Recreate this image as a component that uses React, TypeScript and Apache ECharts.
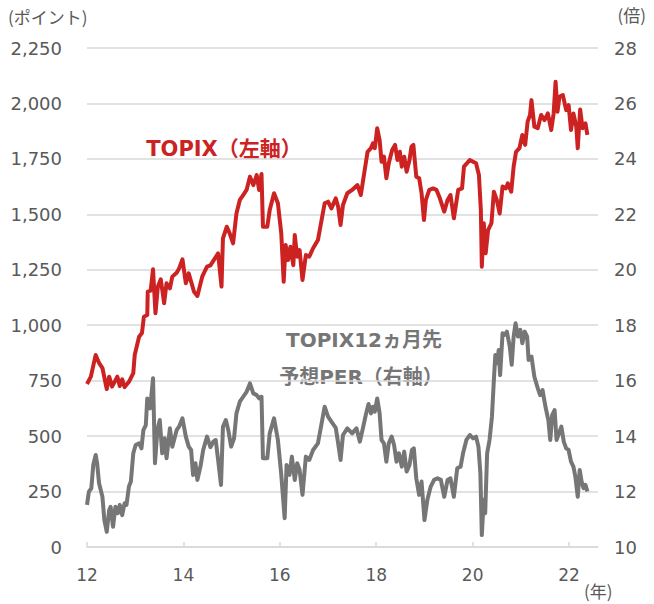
import React, { useEffect, useRef } from "react";
import * as echarts from "echarts";

// TOPIX (left axis, points)
const topixYears = [
  2012.0, 2012.08, 2012.18, 2012.25, 2012.32, 2012.41, 2012.46, 2012.52, 2012.63, 2012.68, 2012.73, 2012.78, 2012.87, 2012.96, 2012.99,
  2013.08, 2013.14, 2013.18, 2013.25, 2013.26, 2013.32, 2013.37, 2013.42, 2013.47, 2013.53, 2013.6, 2013.65, 2013.72, 2013.77, 2013.86, 2013.91, 2013.98,
  2014.05, 2014.11, 2014.22, 2014.29, 2014.39, 2014.49, 2014.56, 2014.62, 2014.72, 2014.79, 2014.82, 2014.9, 2014.96,
  2015.03, 2015.1, 2015.17, 2015.24, 2015.31, 2015.38, 2015.45, 2015.52, 2015.57, 2015.62, 2015.65, 2015.74, 2015.79, 2015.88, 2015.96,
  2016.03, 2016.08, 2016.12, 2016.17, 2016.22, 2016.28, 2016.31, 2016.36, 2016.41, 2016.47, 2016.54, 2016.61, 2016.69, 2016.79, 2016.86, 2016.93,
  2017.0, 2017.07, 2017.16, 2017.21, 2017.26, 2017.31, 2017.4, 2017.5, 2017.61, 2017.68, 2017.75, 2017.82, 2017.89, 2017.93, 2017.97,
  2018.02, 2018.07, 2018.11, 2018.16, 2018.21, 2018.26, 2018.33, 2018.39, 2018.44, 2018.49, 2018.53, 2018.58, 2018.63, 2018.69, 2018.73, 2018.77, 2018.83, 2018.89, 2018.94, 2018.99,
  2019.03, 2019.1, 2019.18, 2019.25, 2019.32, 2019.41, 2019.48, 2019.54, 2019.61, 2019.7, 2019.78, 2019.82, 2019.94,
  2020.07, 2020.13, 2020.17, 2020.19, 2020.23, 2020.27, 2020.32, 2020.39, 2020.44, 2020.5, 2020.56, 2020.62, 2020.69, 2020.73, 2020.8, 2020.85, 2020.9, 2020.97,
  2021.03, 2021.09, 2021.14, 2021.19, 2021.22, 2021.28, 2021.35, 2021.42, 2021.49, 2021.56, 2021.63, 2021.68, 2021.72, 2021.76, 2021.8, 2021.87, 2021.94, 2021.99,
  2022.04, 2022.09, 2022.15, 2022.18, 2022.23, 2022.28, 2022.34, 2022.38,
];
const topixValues = [
  735, 768, 866, 830, 807, 712, 768, 723, 768, 726, 756, 721, 745, 784, 866,
  948, 965, 1038, 1046, 1151, 1156, 1252, 1054, 1174, 1207, 1099, 1189, 1166, 1219, 1237, 1256, 1297,
  1189, 1234, 1151, 1132, 1219, 1264, 1270, 1290, 1324, 1174, 1392, 1444, 1414,
  1369, 1504, 1565, 1587, 1610, 1670, 1632, 1677, 1610, 1682, 1444, 1444, 1519, 1595, 1550,
  1414, 1196, 1362, 1294, 1354, 1271, 1407, 1309, 1339, 1204, 1317, 1309, 1347, 1384, 1467, 1550,
  1557, 1527, 1572, 1534, 1452, 1542, 1595, 1610, 1632, 1587, 1685, 1782, 1798, 1820, 1798,
  1888, 1835, 1737, 1760, 1663, 1730, 1790, 1813, 1745, 1782, 1715, 1760, 1692, 1745, 1805, 1813, 1670, 1663, 1595, 1474,
  1565, 1610, 1617, 1610, 1572, 1512, 1565, 1587, 1482, 1610, 1617, 1715, 1745,
  1730, 1677, 1519, 1264, 1460, 1324, 1429, 1460, 1602, 1565, 1504, 1625, 1617, 1640, 1602, 1715, 1782, 1798,
  1858, 1813, 1918, 1948, 2015, 1895, 1888, 1948, 1925, 1955, 1880, 1955, 2098, 1963, 2030, 2038, 1970, 1993,
  1880, 1955, 1895, 1798, 1973, 1888, 1910, 1858,
];

// TOPIX 12-month forward PER (right axis, times)
const perYears = [
  2012.0, 2012.04, 2012.09, 2012.13, 2012.18, 2012.21, 2012.25, 2012.32, 2012.36, 2012.41, 2012.46, 2012.49, 2012.54, 2012.59, 2012.64, 2012.68, 2012.73, 2012.78, 2012.82, 2012.87, 2012.91, 2012.96,
  2013.01, 2013.08, 2013.13, 2013.17, 2013.22, 2013.25, 2013.31, 2013.37, 2013.41, 2013.46, 2013.51, 2013.56, 2013.61, 2013.65, 2013.72, 2013.77, 2013.86, 2013.91, 2013.98,
  2014.05, 2014.11, 2014.16, 2014.2, 2014.25, 2014.29, 2014.36, 2014.41, 2014.49, 2014.56, 2014.62, 2014.67, 2014.72, 2014.78, 2014.82, 2014.88, 2014.93, 2014.99,
  2015.05, 2015.1, 2015.17, 2015.24, 2015.31, 2015.38, 2015.45, 2015.52, 2015.57, 2015.62, 2015.65, 2015.74, 2015.79, 2015.88, 2015.96,
  2016.03, 2016.1, 2016.14, 2016.2, 2016.25, 2016.31, 2016.36, 2016.41, 2016.47, 2016.54, 2016.61, 2016.69, 2016.79, 2016.86, 2016.93,
  2017.0, 2017.07, 2017.16, 2017.21, 2017.26, 2017.31, 2017.4, 2017.5, 2017.59, 2017.66, 2017.73, 2017.79, 2017.84, 2017.89, 2017.93, 2017.97,
  2018.02, 2018.07, 2018.11, 2018.16, 2018.21, 2018.26, 2018.32, 2018.37, 2018.42, 2018.47, 2018.53, 2018.58, 2018.63, 2018.69, 2018.74, 2018.78, 2018.83, 2018.89, 2018.94, 2018.99,
  2019.0, 2019.06, 2019.13, 2019.2, 2019.27, 2019.34, 2019.41, 2019.48, 2019.54, 2019.61, 2019.68, 2019.75, 2019.8, 2019.87, 2019.94,
  2020.01, 2020.07, 2020.12, 2020.16, 2020.19, 2020.23, 2020.26, 2020.3, 2020.35, 2020.4, 2020.44, 2020.47, 2020.51, 2020.54, 2020.57, 2020.62, 2020.66, 2020.71, 2020.77, 2020.81, 2020.85, 2020.89, 2020.94, 2020.99,
  2021.03, 2021.08, 2021.13, 2021.16, 2021.22, 2021.28, 2021.35, 2021.4, 2021.45, 2021.51, 2021.57, 2021.61, 2021.65, 2021.7, 2021.74, 2021.79, 2021.84, 2021.89, 2021.94, 2021.99,
  2022.04, 2022.09, 2022.13, 2022.18, 2022.22, 2022.26, 2022.3, 2022.34, 2022.38,
];
const perValues = [
  11.52, 12.0, 12.12, 12.96, 13.32, 13.02, 12.3, 11.81, 10.97, 10.55, 11.33, 11.45, 10.73, 11.45, 11.22, 11.52, 11.15, 11.58, 11.52, 12.18, 12.36, 13.38,
  13.68, 13.74, 13.56, 14.22, 14.4, 15.36, 15.0, 16.09, 13.02, 14.22, 14.58, 13.38, 13.92, 13.2, 14.28, 13.62, 14.22, 14.34, 14.64,
  13.98, 13.62, 13.5, 12.6, 13.02, 12.42, 12.96, 13.5, 13.98, 13.6, 13.8, 13.86, 13.14, 12.24, 14.34, 14.58, 14.22, 13.62,
  13.92, 14.82, 15.24, 15.42, 15.6, 15.9, 15.54, 15.48, 15.36, 15.42, 13.2, 13.2, 14.1, 14.64, 13.86,
  12.6, 11.04, 12.96, 12.6, 13.26, 12.42, 13.02, 12.78, 11.88, 13.26, 13.14, 13.5, 13.74, 14.4, 15.06,
  14.7, 14.52, 14.3, 13.74, 13.14, 14.04, 14.28, 14.1, 14.28, 13.8, 14.34, 14.82, 15.16, 14.82, 15.06, 14.88,
  15.36, 14.82, 13.86, 13.74, 13.08, 13.74, 13.98, 13.68, 13.08, 13.38, 12.9, 13.44, 12.72, 12.96, 13.5, 13.56, 12.48, 11.88, 12.36, 11.22,
  10.97, 11.7, 12.18, 12.42, 12.48, 12.42, 11.81, 12.42, 12.48, 11.81, 12.84, 12.9, 13.38, 13.86, 14.04,
  13.92, 13.98, 13.62, 12.66, 10.43, 11.7, 11.22, 13.38, 13.86, 14.7, 16.02, 16.93, 16.63, 17.11, 16.2, 17.71, 17.65, 17.77, 17.23, 16.57, 17.59, 18.07, 17.59, 17.83,
  17.35, 17.77, 17.59, 16.75, 16.87, 16.14, 15.73, 15.48, 15.66, 15.06, 14.58, 13.86, 14.76, 14.94, 13.86, 14.1, 14.34, 13.8, 13.56, 13.5,
  13.08, 12.9, 12.54, 11.81, 12.78, 12.36, 12.12, 12.24, 12.0,
];

const xTickValues = [2012, 2014, 2016, 2018, 2020, 2022];

const LATIN = "'DejaVu Sans', 'Noto Sans CJK JP', sans-serif";
const CJK = "'Noto Sans CJK JP', 'DejaVu Sans', sans-serif";

export default function App() {
  const ref = useRef<HTMLDivElement>(null);

  useEffect(() => {
    if (!ref.current) return;
    const chart = echarts.init(ref.current, undefined, { renderer: "svg" });
    const topixData = topixYears.map((x, i) => [x, topixValues[i]]);
    const perData = perYears.map((x, i) => [x, perValues[i]]);
    const labelColor = "#595959";
    chart.setOption({
      animation: false,
      backgroundColor: "#ffffff",
      grid: { left: 87, right: 56, top: 48, bottom: 57, containLabel: false },
      xAxis: {
        type: "value",
        min: 2012,
        max: 2022.6,
        interval: 2,
        axisLine: { show: true, lineStyle: { color: "#d9d9d9", width: 1.5 } },
        axisTick: {
          show: true,
          inside: true,
          length: 5,
          customValues: xTickValues,
          lineStyle: { color: "#d9d9d9", width: 1.5 },
        },
        axisLabel: {
          customValues: xTickValues,
          formatter: (v: number) => String(Math.round(v) % 100),
          color: labelColor,
          fontFamily: LATIN,
          fontSize: 17,
          margin: 19,
        },
        splitLine: { show: false },
      },
      yAxis: [
        {
          type: "value",
          min: 0,
          max: 2250,
          interval: 250,
          axisLine: { show: false },
          axisTick: { show: false },
          axisLabel: {
            formatter: (v: number) => v.toLocaleString("en-US"),
            color: labelColor,
            fontFamily: LATIN,
            fontSize: 18,
            margin: 25,
          },
          splitLine: { show: true, lineStyle: { color: "#d9d9d9", width: 1.5 } },
        },
        {
          type: "value",
          min: 10,
          max: 28,
          interval: 2,
          position: "right",
          axisLine: { show: false },
          axisTick: { show: false },
          axisLabel: {
            color: labelColor,
            fontFamily: LATIN,
            fontSize: 18,
            margin: 16,
          },
          splitLine: { show: false },
        },
      ],
      series: [
        {
          name: "TOPIX12ヵ月先予想PER（右軸）",
          type: "line",
          yAxisIndex: 1,
          data: perData,
          showSymbol: false,
          lineStyle: { color: "#767676", width: 4, join: "round" },
          z: 2,
        },
        {
          name: "TOPIX（左軸）",
          type: "line",
          yAxisIndex: 0,
          data: topixData,
          showSymbol: false,
          lineStyle: { color: "#cc2322", width: 4, join: "round" },
          z: 3,
        },
      ],
      graphic: [
        {
          type: "text",
          left: 8,
          top: 8,
          style: { text: "(ポイント)", fill: labelColor, font: `17px ${CJK}` },
        },
        {
          type: "text",
          right: 8,
          top: 6,
          style: { text: "(倍)", fill: labelColor, font: `17px ${CJK}` },
        },
        {
          type: "text",
          left: 584,
          top: 582,
          style: { text: "(年)", fill: labelColor, font: `17px ${CJK}` },
        },
        {
          type: "text",
          x: 224,
          y: 149,
          style: {
            text: "TOPIX（左軸）",
            fill: "#cc2322",
            font: `bold 21px ${LATIN}`,
            align: "center",
            verticalAlign: "middle",
          },
        },
        {
          type: "text",
          x: 364,
          y: 340,
          style: {
            text: "TOPIX12ヵ月先",
            fill: "#767676",
            font: `bold 20px ${LATIN}`,
            align: "center",
            verticalAlign: "middle",
          },
        },
        {
          type: "text",
          x: 361,
          y: 377,
          style: {
            text: "予想PER（右軸）",
            fill: "#767676",
            font: `bold 20px ${LATIN}`,
            align: "center",
            verticalAlign: "middle",
          },
        },
      ],
    });
    return () => chart.dispose();
  }, []);

  return (
    <div
      ref={ref}
      style={{ position: "absolute", left: 0, top: 0, width: 654, height: 604 }}
    />
  );
}
